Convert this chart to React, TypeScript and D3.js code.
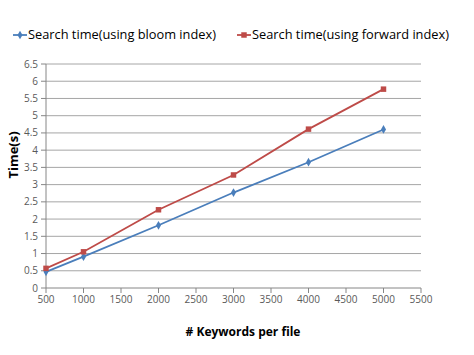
import React from "react";
import * as d3 from "d3";

const keywords = [500, 1000, 2000, 3000, 4000, 5000];
const bloomTimes = [0.47, 0.91, 1.82, 2.77, 3.65, 4.6];
const forwardTimes = [0.57, 1.05, 2.27, 3.28, 4.61, 5.77];
const xTicks = [500, 1000, 1500, 2000, 2500, 3000, 3500, 4000, 4500, 5000, 5500];
const yTicks = [0, 0.5, 1, 1.5, 2, 2.5, 3, 3.5, 4, 4.5, 5, 5.5, 6, 6.5];
const seriesNames = ["Search time(using bloom index)", "Search time(using forward index)"];

const W = 474, H = 355;
const font = "'Open Sans', 'Liberation Sans', sans-serif";

export default function App() {
  const x = d3.scaleLinear().domain([500, 5500]).range([46, 421]);
  const y = d3.scaleLinear().domain([0, 6.5]).range([288, 64]);
  const line = d3.line<number>().x((_, i) => x(keywords[i])).y(d => y(d));
  const blue = "#4a7ebb", red = "#be4b48";
  const diamond = d3.symbol().type(d3.symbolDiamond).size(22)();
  const square = d3.symbol().type(d3.symbolSquare).size(30)();
  return (
    <svg width={W} height={H} style={{ position: "absolute", left: 0, top: 0 }}>
      <rect width={W} height={H} fill="#fff" />
      {yTicks.map(t => (
        <g key={t}>
          {t > 0 && <line x1={x(500)} x2={x(5500)} y1={y(t)} y2={y(t)} stroke="#a6a6a6" strokeWidth={1} />}
          <line x1={41} x2={46} y1={y(t)} y2={y(t)} stroke="#868686" />
          <text x={38} y={y(t)} dy="0.35em" textAnchor="end" fontSize={10} fill="#595959" fontFamily={font}>{t}</text>
        </g>
      ))}
      <line x1={x(500)} x2={x(500)} y1={y(6.5)} y2={y(0)} stroke="#868686" />
      <line x1={x(500)} x2={x(5500)} y1={y(0)} y2={y(0)} stroke="#868686" />
      {xTicks.map(t => (
        <g key={t}>
          <line x1={x(t)} x2={x(t)} y1={288} y2={293} stroke="#868686" />
          <text x={x(t)} y={303} textAnchor="middle" fontSize={10} fill="#595959" fontFamily={font}>{t}</text>
        </g>
      ))}
      <path d={line(bloomTimes) || ""} fill="none" stroke={blue} strokeWidth={1.8} />
      <path d={line(forwardTimes) || ""} fill="none" stroke={red} strokeWidth={1.8} />
      {bloomTimes.map((v, i) => (
        <path key={"b" + i} d={diamond || ""} transform={`translate(${x(keywords[i])},${y(v)})`} fill={blue} />
      ))}
      {forwardTimes.map((v, i) => (
        <path key={"r" + i} d={square || ""} transform={`translate(${x(keywords[i])},${y(v)})`} fill={red} />
      ))}
      <g>
        <line x1={13} x2={27} y1={35} y2={35} stroke={blue} strokeWidth={1.8} />
        <path d={diamond || ""} transform="translate(20,35)" fill={blue} />
        <text x={28} y={35} dy="0.35em" fontSize={12.8} fill="#000" fontFamily={font}>{seriesNames[0]}</text>
        <line x1={237} x2={251} y1={35} y2={35} stroke={red} strokeWidth={1.8} />
        <path d={square || ""} transform="translate(244,35)" fill={red} />
        <text x={252} y={35} dy="0.35em" fontSize={12.8} fill="#000" fontFamily={font}>{seriesNames[1]}</text>
      </g>
      <text x={243} y={332} dy="0.35em" textAnchor="middle" fontSize={12} fontWeight="bold" fill="#000" fontFamily={font}># Keywords per file</text>
      <text transform="translate(13,155) rotate(-90)" textAnchor="middle" dy="0.35em" fontSize={13} fontWeight="bold" fill="#000" fontFamily={font}>Time(s)</text>
    </svg>
  );
}
